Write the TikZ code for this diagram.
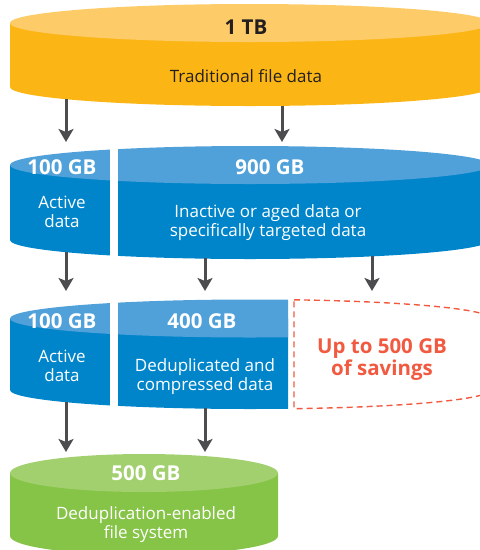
\documentclass[tikz,border=0pt]{standalone}
\usepackage{fontspec}
\setmainfont{Open Sans}
\usetikzlibrary{arrows.meta}

\definecolor{goldbody}{HTML}{FBB615}
\definecolor{goldtop}{HTML}{FECB69}
\definecolor{bluebody}{HTML}{0085CA}
\definecolor{bluetop}{HTML}{50A1D9}
\definecolor{greenbody}{HTML}{86C447}
\definecolor{greentop}{HTML}{A2D06E}
\definecolor{arrowgray}{HTML}{4D4D4F}
\definecolor{savered}{HTML}{F15A40}
\definecolor{darktext}{HTML}{231F20}

\begin{document}
\begin{tikzpicture}[x=1pt, y=-1pt,
    lbl/.style = {anchor=base, font=\bfseries\fontsize{20.5}{22}\selectfont, text=white},
    txt/.style = {anchor=base, align=center, font=\fontsize{17}{19}\selectfont, text=white},
    flow/.style = {draw=arrowgray, line width=3pt, -{Stealth[length=13pt, width=15pt, inset=3pt]}},
    savings/.style = {draw=savered, line width=1.4pt, dash pattern=on 6pt off 4pt}]
    \useasboundingbox (0,0) rectangle (480,550);
    \clip (0,0) rectangle (480,550);

    % 1 TB
    \fill[goldbody] (10,23) -- (10,87) arc[start angle=180, end angle=0, x radius=240, y radius=19] -- (490,23) -- cycle;
    \fill[goldtop] (250,23) ellipse [x radius=240, y radius=19];

    % split store
    \fill[bluebody] (10,165) -- (10,240) arc[start angle=180, end angle=0, x radius=240, y radius=19] -- (490,165) -- cycle;
    \fill[bluetop] (250,165) ellipse [x radius=240, y radius=19];
    \fill[white] (110,130) rectangle (118,270);

    % after deduplication
    \begin{scope}
        \clip (0,280) rectangle (288,420);
        \fill[bluebody] (10,318.5) -- (10,390) arc[start angle=180, end angle=0, x radius=240, y radius=19] -- (490,318.5) -- cycle;
        \fill[bluetop] (250,318.5) ellipse [x radius=240, y radius=19];
    \end{scope}
    \fill[white] (110,285) rectangle (118,415);
    \draw[savings] (294,299.8) arc[start angle=280.56, end angle=360, x radius=240, y radius=19] -- (490,390)
        arc[start angle=0, end angle=79.44, x radius=240, y radius=19] -- cycle;

    % 500 GB
    \fill[greenbody] (10,473) -- (10,536) arc[start angle=180, end angle=0, x radius=134, y radius=19] -- (278,473) -- cycle;
    \fill[greentop] (144,473) ellipse [x radius=134, y radius=19];

    \node[lbl, text=darktext] (tb) at (246,34) {1 TB};
    \node[txt, text=darktext] (trad) at (246,82) {Traditional file data};

    \node[lbl] (act1) at (62,174) {100 GB};
    \node[txt] (actt1) at (62,227) {Active\\data};
    \node[lbl] (inact) at (270,174) {900 GB};
    \node[txt] (inactt) at (268,236.7) {Inactive or aged data or\\specifically targeted data};

    \node[lbl] (act2) at (62,328) {100 GB};
    \node[txt] (actt2) at (62,381.7) {Active\\data};
    \node[lbl] (dedup) at (202,328) {400 GB};
    \node[txt] (dedupt) at (205,390) {Deduplicated and\\compressed data};
    \node[lbl, text=savered, align=center] (save) at (382,375) {Up to 500 GB\\of savings};

    \node[lbl] (fs) at (146,480.7) {500 GB};
    \node[txt] (fst) at (146,538) {Deduplication-enabled\\file system};

    \coordinate (a1) at (66,99);   \coordinate (b1) at (66,142);
    \coordinate (a2) at (282,106); \coordinate (b2) at (282,142);
    \coordinate (a3) at (66,252);  \coordinate (b3) at (66,291);
    \coordinate (a4) at (205,258); \coordinate (b4) at (205,291);
    \coordinate (a5) at (372,256); \coordinate (b5) at (372,291);
    \coordinate (a6) at (66,402);  \coordinate (b6) at (66,452);
    \coordinate (a7) at (205,408); \coordinate (b7) at (205,452);

    \draw[flow] (a1) -- (b1);
    \draw[flow] (a2) -- (b2);
    \draw[flow] (a3) -- (b3);
    \draw[flow] (a4) -- (b4);
    \draw[flow] (a5) -- (b5);
    \draw[flow] (a6) -- (b6);
    \draw[flow] (a7) -- (b7);
\end{tikzpicture}
\end{document}
